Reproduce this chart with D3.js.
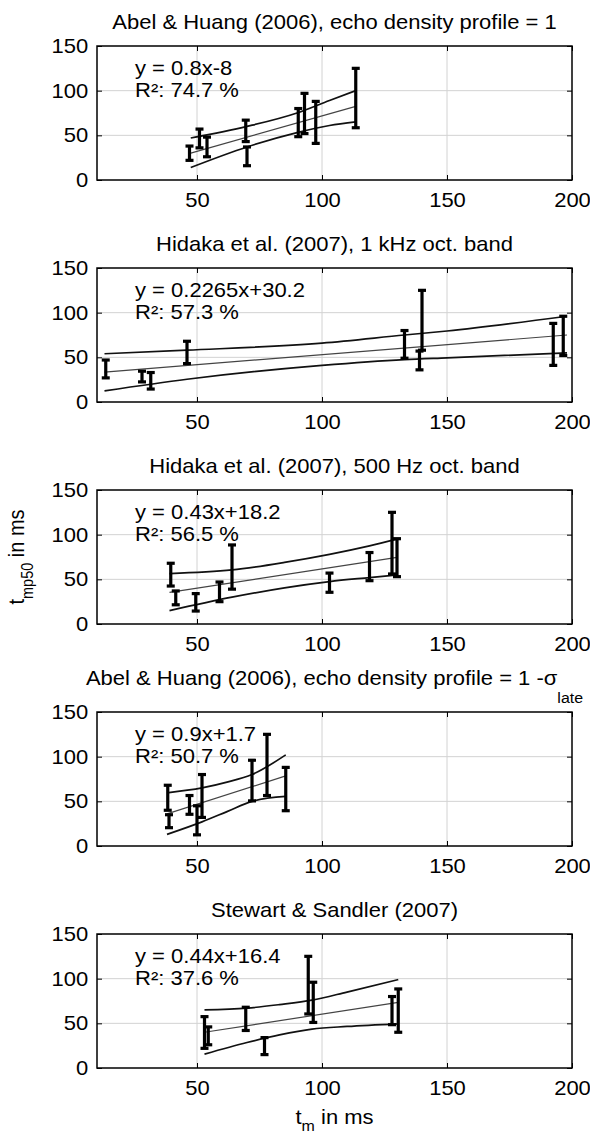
<!DOCTYPE html>
<html>
<head>
<meta charset="utf-8">
<script src="https://cdn.jsdelivr.net/npm/d3@7"></script>
<style>
  body { margin: 0; background: #fff; }
  svg { display: block; font-family: "Liberation Sans", Arial, Helvetica, sans-serif; }
</style>
</head>
<body>
<div id="chart"></div>
<script>
// Shared Setup
const width = 590, height = 1133;
const margin = { left: 97, right: 18 };
const panelTop0 = 46, panelStep = 222, panelH = 134;
const fontSize = 20, stretch = 1.1; // source figure text is slightly wide

// Text
const titles = [
  "Abel & Huang (2006), echo density profile = 1",
  "Hidaka et al. (2007), 1 kHz oct. band",
  "Hidaka et al. (2007), 500 Hz oct. band",
  "Abel & Huang (2006), echo density profile = 1 -σ",
  "Stewart & Sandler (2007)"
];
const titleSubs = ["", "", "", "late", ""];
const equations = ["y = 0.8x-8", "y = 0.2265x+30.2", "y = 0.43x+18.2", "y = 0.9x+1.7", "y = 0.44x+16.4"];
const r2Labels = ["R²: 74.7 %", "R²: 57.3 %", "R²: 56.5 %", "R²: 50.7 %", "R²: 37.6 %"];
const xTicks = [50, 100, 150, 200];
const yTicks = [0, 50, 100, 150];

// Panel 1: Abel & Huang, profile = 1
const p1BarX  = [47, 51, 54, 69.5, 70, 90.5, 93, 97.5, 113.5];
const p1BarLo = [22, 36, 26, 43, 16, 48.5, 52, 41, 58.5];
const p1BarHi = [38, 57, 48, 67, 37, 80, 97, 88, 125];
const p1BandX = [47.5, 70, 90, 103, 113.5];
const p1Upper = [47, 60, 75, 89, 100];
const p1Lower = [14, 37, 53, 61, 65];
const p1FitX = [47.5, 113.5];
const p1FitY = [30, 82.5];

// Panel 2: Hidaka 1 kHz
const p2BarX  = [13.5, 28, 31.5, 46, 133, 139, 140, 192.5, 196.5];
const p2BarLo = [27, 22.5, 14.5, 43, 49, 36, 58, 41, 52];
const p2BarHi = [47, 34.5, 33, 68, 80, 57, 125, 88, 96];
const p2BandX = [13, 46, 100, 133, 150, 198];
const p2Upper = [54, 58, 66, 75, 79.5, 96];
const p2Lower = [12.5, 25.5, 41, 47.5, 49.5, 55];
const p2FitX = [13, 198];
const p2FitY = [33.5, 75];

// Panel 3: Hidaka 500 Hz
const p3BarX  = [39.5, 41.5, 49.5, 59, 64, 103, 119, 128, 130];
const p3BarLo = [42.5, 21.5, 14.5, 25, 39, 35.5, 48.5, 56, 53];
const p3BarHi = [68, 37, 34, 47, 88.5, 57, 80, 125, 95.5];
const p3BandX = [39, 64, 85, 103, 119, 130];
const p3Upper = [56.5, 60.5, 69, 78, 87.5, 95];
const p3Lower = [15, 30, 40.5, 47.5, 52, 55];
const p3FitX = [39, 130];
const p3FitY = [35.5, 74.5];

// Panel 4: Abel & Huang, profile = 1 - sigma_late
const p4BarX  = [38.3, 38.8, 47, 50, 52, 72, 78, 85.5];
const p4BarLo = [40, 20.5, 35.5, 12.5, 32, 50.5, 56.5, 39.5];
const p4BarHi = [68, 35, 56.5, 45, 80, 96, 125, 88];
const p4BandX = [38, 52, 62, 72, 85.5];
const p4Upper = [59.5, 65, 71.5, 80, 102];
const p4Lower = [13, 27, 38.5, 50, 55.5];
const p4FitX = [38, 85.5];
const p4FitY = [36, 78.5];

// Panel 5: Stewart & Sandler
const p5BarX  = [53, 54.5, 69.5, 77, 94.5, 96.5, 128, 130.5];
const p5BarLo = [22, 26, 42, 15, 60.5, 51, 48.5, 40];
const p5BarHi = [57.5, 46, 68, 34, 125, 96, 80, 88.5];
const p5BandX = [53, 70, 83, 96, 110, 130.5];
const p5Upper = [65, 67, 71, 76, 85, 99];
const p5Lower = [15.5, 28.5, 37, 43.5, 46.5, 49.5];
const p5FitX = [53, 130.5];
const p5FitY = [40, 73.5];

const panels = [
  { barX: p1BarX, barLo: p1BarLo, barHi: p1BarHi, bandX: p1BandX, upper: p1Upper, lower: p1Lower, fitX: p1FitX, fitY: p1FitY },
  { barX: p2BarX, barLo: p2BarLo, barHi: p2BarHi, bandX: p2BandX, upper: p2Upper, lower: p2Lower, fitX: p2FitX, fitY: p2FitY },
  { barX: p3BarX, barLo: p3BarLo, barHi: p3BarHi, bandX: p3BandX, upper: p3Upper, lower: p3Lower, fitX: p3FitX, fitY: p3FitY },
  { barX: p4BarX, barLo: p4BarLo, barHi: p4BarHi, bandX: p4BandX, upper: p4Upper, lower: p4Lower, fitX: p4FitX, fitY: p4FitY },
  { barX: p5BarX, barLo: p5BarLo, barHi: p5BarHi, bandX: p5BandX, upper: p5Upper, lower: p5Lower, fitX: p5FitX, fitY: p5FitY }
];

const svg = d3.select("#chart").append("svg")
  .attr("width", width)
  .attr("height", height);

const x = d3.scaleLinear().domain([10, 200]).range([margin.left, width - margin.right]);

// Helper: text placed at (tx, ty), widened a little like the source
function addText(parent, tx, ty, anchor) {
  return parent.append("text")
    .attr("transform", `translate(${tx},${ty}) scale(${stretch},1)`)
    .attr("text-anchor", anchor)
    .attr("font-size", fontSize);
}

function drawPanel(p, i) {
  const top = panelTop0 + i * panelStep;
  const bottom = top + panelH;
  const y = d3.scaleLinear().domain([0, 150]).range([bottom, top]);
  const g = svg.append("g");

  // grid
  g.append("g").selectAll("line")
    .data([50, 100, 150])
    .join("line")
    .attr("x1", d => x(d)).attr("x2", d => x(d))
    .attr("y1", top).attr("y2", bottom)
    .attr("stroke", "#d2d2d2");
  g.append("g").selectAll("line")
    .data([50, 100])
    .join("line")
    .attr("x1", x(10)).attr("x2", x(200))
    .attr("y1", d => y(d)).attr("y2", d => y(d))
    .attr("stroke", "#d2d2d2");

  // confidence band + fit
  const band = (ys) => d3.line().curve(d3.curveMonotoneX)
    .x((d, k) => x(p.bandX[k])).y(d => y(d))(ys);
  g.append("path").attr("d", band(p.upper))
    .attr("fill", "none").attr("stroke", "#111").attr("stroke-width", 1.7);
  g.append("path").attr("d", band(p.lower))
    .attr("fill", "none").attr("stroke", "#111").attr("stroke-width", 1.7);
  g.append("path")
    .attr("d", d3.line().x((d, k) => x(p.fitX[k])).y(d => y(d))(p.fitY))
    .attr("fill", "none").attr("stroke", "#444").attr("stroke-width", 1.2);

  // error bars
  const bars = p.barX.map((v, k) => ({ x: v, lo: p.barLo[k], hi: p.barHi[k] }));
  const bg = g.append("g").attr("stroke", "#000").attr("stroke-width", 3.2);
  bg.selectAll(".stem").data(bars).join("line").attr("class", "stem")
    .attr("x1", d => x(d.x)).attr("x2", d => x(d.x))
    .attr("y1", d => y(d.lo)).attr("y2", d => y(d.hi));
  bg.selectAll(".capHi").data(bars).join("line").attr("class", "capHi")
    .attr("x1", d => x(d.x) - 4).attr("x2", d => x(d.x) + 4)
    .attr("y1", d => y(d.hi)).attr("y2", d => y(d.hi));
  bg.selectAll(".capLo").data(bars).join("line").attr("class", "capLo")
    .attr("x1", d => x(d.x) - 4).attr("x2", d => x(d.x) + 4)
    .attr("y1", d => y(d.lo)).attr("y2", d => y(d.lo));

  // box
  g.append("rect")
    .attr("x", x(10)).attr("y", top)
    .attr("width", x(200) - x(10)).attr("height", panelH)
    .attr("fill", "none").attr("stroke", "#000").attr("stroke-width", 1.5);

  // axes (MATLAB style inward ticks)
  const styleAxis = sel => {
    sel.attr("font-size", fontSize).attr("font-family", null);
    sel.select(".domain").remove();
    sel.selectAll("text").attr("fill", "#000").attr("transform", `scale(${stretch},1)`);
  };
  g.append("g").attr("transform", `translate(0,${bottom})`)
    .call(d3.axisBottom(x).tickValues(xTicks).tickSize(-5).tickPadding(13))
    .call(styleAxis);
  g.append("g").attr("transform", `translate(0,${top})`)
    .call(d3.axisTop(x).tickValues(xTicks).tickSize(-5).tickFormat(() => ""))
    .call(styleAxis);
  g.append("g").attr("transform", `translate(${x(10)},0)`)
    .call(d3.axisLeft(y).tickValues(yTicks).tickSize(-5).tickPadding(8))
    .call(styleAxis);
  g.append("g").attr("transform", `translate(${x(200)},0)`)
    .call(d3.axisRight(y).tickValues(yTicks).tickSize(-5).tickFormat(() => ""))
    .call(styleAxis);

  // title
  const cx = (x(10) + x(200)) / 2;
  const t = addText(g, cx, titleSubs[i] ? top - 27 : top - 17, "middle").text(titles[i]);
  if (titleSubs[i]) {
    t.append("tspan").attr("dy", 18).attr("font-size", 14.5).text(titleSubs[i]);
  }

  // fit annotation
  addText(g, 135, top + 29, "start").text(equations[i]);
  addText(g, 135, top + 51, "start").text(r2Labels[i]);
}

panels.forEach(drawPanel);

// Axis labels
const xl = addText(svg, (x(10) + x(200)) / 2, 1124, "middle");
xl.append("tspan").text("t");
xl.append("tspan").attr("font-size", 14.5).attr("dy", 7).text("m");
xl.append("tspan").attr("dy", -7).text(" in ms");

const yl = svg.append("text")
  .attr("transform", `translate(24,557) scale(${stretch},1) rotate(-90)`)
  .attr("text-anchor", "middle").attr("font-size", fontSize);
yl.append("tspan").text("t");
yl.append("tspan").attr("font-size", 14.5).attr("dy", 8).text("mp50");
yl.append("tspan").attr("dy", -8).text(" in ms");
</script>
</body>
</html>
